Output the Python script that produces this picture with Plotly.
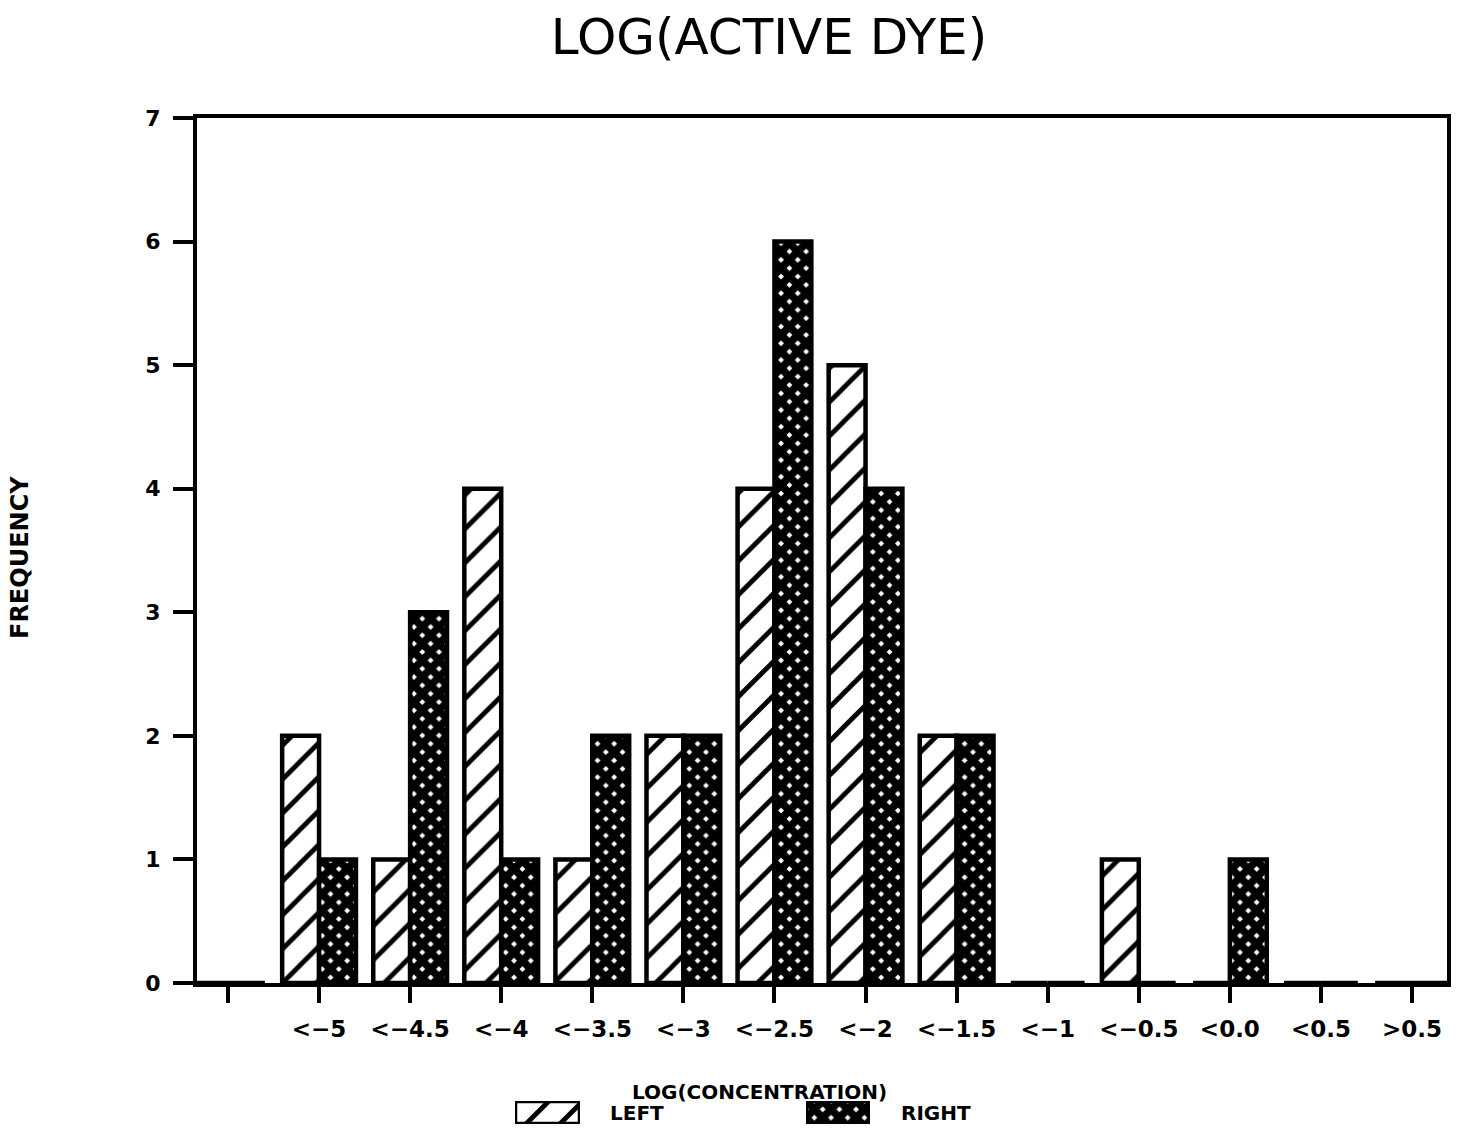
import plotly.graph_objects as go

# Frequency of log(active dye) concentrations, left vs right
bins = ["", "<−5", "<−4.5", "<−4", "<−3.5", "<−3", "<−2.5", "<−2",
        "<−1.5", "<−1", "<−0.5", "<0.0", "<0.5", ">0.5"]
left_freq = [0, 2, 1, 4, 1, 2, 4, 5, 2, 0, 1, 0, 0, 0]
right_freq = [0, 1, 3, 1, 2, 2, 6, 4, 2, 0, 0, 1, 0, 0]
y_ticks = [0, 1, 2, 3, 4, 5, 6, 7]
series_names = ["LEFT", "RIGHT"]

positions = list(range(len(bins)))

FONT = "DejaVu Sans"
INK = "black"

hatch = dict(shape="/", bgcolor="white", fgcolor=INK, size=24, solidity=0.2,
             fillmode="replace")
dots = dict(shape="x", bgcolor="white", fgcolor=INK, size=11.8, solidity=0.88,
            fillmode="replace")
outline = dict(color=INK, width=4.5)

fig = go.Figure()

fig.add_trace(go.Bar(
    x=positions, y=left_freq, name=series_names[0],
    marker=dict(color="white", pattern=hatch, line=outline),
    showlegend=False, hoverinfo="skip",
))
fig.add_trace(go.Bar(
    x=positions, y=right_freq, name=series_names[1],
    marker=dict(color="white", pattern=dots, line=outline),
    showlegend=False, hoverinfo="skip",
))

# Legend swatches drawn as single full-height bars in small inset axes
fig.add_trace(go.Bar(
    x=[0], y=[1], width=[1], xaxis="x2", yaxis="y2",
    marker=dict(color="white", pattern=hatch, line=outline),
    showlegend=False, hoverinfo="skip",
))
fig.add_trace(go.Bar(
    x=[0], y=[1], width=[1], xaxis="x3", yaxis="y3",
    marker=dict(color="white", pattern=dots, line=outline),
    showlegend=False, hoverinfo="skip",
))

# plot geometry in pixels
W, H = 1462, 1133
L, R, T, B = 197, 15, 118, 0
pw, ph = W - L - R, H - T - B


def px_x(px):
    return (px - L) / pw


def px_y(py):
    return (H - B - py) / ph


axis_common = dict(showgrid=False, zeroline=False, showline=True, linecolor=INK,
                   linewidth=4, mirror=True, ticks="outside", tickcolor=INK,
                   tickwidth=4, automargin=False)

hidden = dict(visible=False, showgrid=False, zeroline=False, fixedrange=True,
              automargin=False)

fig.update_layout(
    width=W, height=H, autosize=False,
    margin=dict(l=L, r=R, t=T, b=B, pad=0, autoexpand=False),
    paper_bgcolor="white", plot_bgcolor="white",
    barmode="group", bargap=0.19, bargroupgap=0,
    showlegend=False,
    title=dict(text="LOG(ACTIVE DYE)", x=769 / W, xanchor="center",
               y=1 - 36 / H, yanchor="middle", xref="container", yref="container",
               font=dict(family=FONT, size=50, color=INK)),
    xaxis=dict(**axis_common, range=[-0.34, 13.384], tickmode="array",
               tickvals=positions, ticktext=bins, ticklen=16,
               ticklabelstandoff=6,
               tickfont=dict(family=FONT, size=23, color=INK, weight="bold")),
    yaxis=dict(**axis_common, range=[0, 7], tickmode="array", tickvals=y_ticks,
               ticklen=20, ticklabelstandoff=8,
               domain=[px_y(983), 1],
               tickfont=dict(family=FONT, size=22, color=INK, weight="bold")),
    xaxis2=dict(**hidden, domain=[px_x(515), px_x(580)], range=[-0.5, 0.5],
                anchor="y2"),
    yaxis2=dict(**hidden, domain=[px_y(1124), px_y(1101)], range=[0, 1],
                anchor="x2"),
    xaxis3=dict(**hidden, domain=[px_x(806), px_x(870)], range=[-0.5, 0.5],
                anchor="y3"),
    yaxis3=dict(**hidden, domain=[px_y(1124), px_y(1101)], range=[0, 1],
                anchor="x3"),
)

label_font = dict(family=FONT, size=20, color=INK, weight="bold")
fig.add_annotation(text="LOG(CONCENTRATION)", xref="paper", yref="paper",
                   x=px_x(759), y=px_y(1092), xanchor="center", yanchor="middle",
                   showarrow=False, font=label_font)
fig.add_annotation(text=series_names[0], xref="paper", yref="paper",
                   x=px_x(637), y=px_y(1113), xanchor="center", yanchor="middle",
                   showarrow=False, font=label_font)
fig.add_annotation(text=series_names[1], xref="paper", yref="paper",
                   x=px_x(936), y=px_y(1113), xanchor="center", yanchor="middle",
                   showarrow=False, font=label_font)
fig.add_annotation(text="FREQUENCY", xref="paper", yref="paper",
                   x=px_x(20), y=px_y(558), xanchor="center", yanchor="middle",
                   textangle=-90, showarrow=False,
                   font=dict(family=FONT, size=24, color=INK, weight="bold"))

fig.write_html("out.html")
